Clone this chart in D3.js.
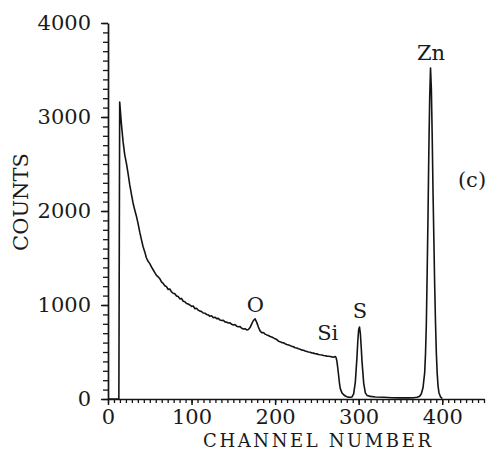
<!DOCTYPE html>
<html>
<head>
<meta charset="utf-8">
<script src="https://cdn.jsdelivr.net/npm/d3@7"></script>
<style>
  html, body { margin: 0; padding: 0; background: #fff; }
  svg { display: block; }
  text { font-family: "DejaVu Serif", serif; fill: #1a1a1a; }
</style>
</head>
<body>
<svg id="chart" width="490" height="451"></svg>
<script>
// ---- data ----
const channels = [0, 13, 14, 16, 18, 20, 22, 24, 26, 28, 30, 32, 34, 36, 38, 40, 42, 44, 46, 48, 50,
  52, 54, 56, 58, 60, 62, 64, 66, 68, 70, 72, 74, 76, 78, 80, 82, 84, 86, 88, 90,
  92, 94, 96, 98, 100, 102, 104, 106, 108, 110, 112, 114, 116, 118, 120, 122, 124, 126, 128, 130,
  132, 134, 136, 138, 140, 142, 144, 146, 148, 150, 152, 154, 156, 158, 160, 162, 164, 166, 168, 170,
  172, 174, 176, 178, 180, 182, 184, 186, 188, 190, 192, 194, 196, 198, 200, 202, 204, 206, 208, 210,
  212, 214, 216, 218, 220, 222, 224, 226, 228, 230, 232, 234, 236, 238, 240, 242, 244, 246, 248, 250,
  252, 254, 256, 258, 260, 262, 264, 266, 268, 270, 272, 273, 274, 275, 276, 277, 278, 280, 282, 284,
  286, 288, 290, 292, 294, 296, 298, 299, 300, 301, 302, 303, 304, 306, 308, 310, 314, 320, 330, 340,
  350, 360, 366, 370, 373, 375, 377, 379, 380, 381, 382, 383, 384, 385, 386, 387, 388, 389, 390, 391,
  392, 393, 394, 395, 396, 398, 400];
const counts = [0, 0, 3160, 2930, 2740, 2600, 2510, 2400, 2280, 2180, 2085, 2010, 1945, 1865, 1775, 1695, 1620, 1565, 1500, 1465, 1440,
  1405, 1375, 1345, 1315, 1300, 1280, 1245, 1230, 1205, 1195, 1165, 1170, 1140, 1125, 1120, 1095, 1090, 1065, 1070, 1040,
  1035, 1015, 1010, 1000, 985, 990, 960, 965, 945, 935, 930, 915, 912, 900, 895, 880, 885, 865, 870, 855,
  858, 840, 835, 838, 820, 818, 808, 810, 795, 788, 792, 775, 768, 770, 752, 745, 748, 735, 740, 760,
  800, 835, 852, 815, 765, 725, 705, 708, 690, 682, 676, 665, 660, 650, 640, 632, 615, 610, 600, 598,
  588, 580, 575, 568, 560, 556, 545, 542, 535, 530, 520, 518, 510, 505, 500, 498, 490, 488, 482, 480,
  474, 470, 468, 462, 460, 456, 455, 452, 448, 445, 452, 440, 400, 330, 250, 170, 110, 65, 45, 32,
  25, 20, 18, 22, 55, 180, 450, 620, 740, 766, 700, 560, 400, 170, 65, 38, 28, 22, 18, 14,
  12, 12, 14, 18, 30, 55, 120, 280, 480, 800, 1350, 1950, 2650, 3200, 3520, 3300, 2800, 2200, 1700, 1200,
  800, 480, 270, 140, 70, 22, 5];

const xTickLabels = [0, 100, 200, 300, 400];
const yTickLabels = [0, 1000, 2000, 3000, 4000];
const peakLabels = ["O", "Si", "S", "Zn"];
const peakChannels = [176.5, 263, 301.5, 386.5];
const peakCounts = [926, 628, 862, 3606];
const panelLabel = "(c)";
const xTitle = "CHANNEL NUMBER";
const yTitle = "COUNTS";

// ---- layout ----
const svg = d3.select("#chart");
const x = d3.scaleLinear().domain([0, 450]).range([108, 484]);
const y = d3.scaleLinear().domain([0, 4000]).range([399, 23]);
const ink = "#141414";

const xMinor = d3.range(0, 451, 100 / 14);
const yMinor = d3.range(0, 4001, 100);

// minor ticks
svg.append("g")
  .attr("transform", `translate(0,${y(0)})`)
  .call(d3.axisBottom(x).tickValues(xMinor).tickSize(4).tickSizeOuter(0).tickFormat(""))
  .call(g => g.select(".domain").remove())
  .call(g => g.selectAll("line").attr("stroke", ink).attr("stroke-width", 1.3));
svg.append("g")
  .attr("transform", `translate(${x(0)},0)`)
  .call(d3.axisLeft(y).tickValues(yMinor).tickSize(5).tickSizeOuter(0).tickFormat(""))
  .call(g => g.select(".domain").remove())
  .call(g => g.selectAll("line").attr("stroke", ink).attr("stroke-width", 1.3));

// major axes
const xAxis = svg.append("g")
  .attr("transform", `translate(0,${y(0)})`)
  .call(d3.axisBottom(x).tickValues(xTickLabels).tickSize(6).tickSizeOuter(0).tickPadding(4).tickFormat(d3.format("d")));
const yAxis = svg.append("g")
  .attr("transform", `translate(${x(0)},0)`)
  .call(d3.axisLeft(y).tickValues(yTickLabels).tickSize(7).tickSizeOuter(0).tickPadding(10).tickFormat(d3.format("d")));
[xAxis, yAxis].forEach(g => {
  g.select(".domain").attr("stroke", ink).attr("stroke-width", 1.7);
  g.selectAll(".tick line").attr("stroke", ink).attr("stroke-width", 1.5);
  g.selectAll(".tick text")
    .attr("fill", ink)
    .style("font-family", '"DejaVu Serif", serif')
    .style("font-size", "21px");
});

// spectrum line
const pts = channels.map((c, i) => [c, counts[i]]);
svg.append("path")
  .datum(pts)
  .attr("fill", "none")
  .attr("stroke", ink)
  .attr("stroke-width", 1.6)
  .attr("stroke-linejoin", "round")
  .attr("d", d3.line().x(d => x(d[0])).y(d => y(d[1])));

// peak labels
svg.selectAll("text.peak")
  .data(peakLabels)
  .enter().append("text")
  .attr("class", "peak")
  .attr("x", (d, i) => x(peakChannels[i]))
  .attr("y", (d, i) => y(peakCounts[i]))
  .attr("text-anchor", "middle")
  .style("font-size", "21px")
  .text(d => d);

svg.append("text")
  .attr("x", 472).attr("y", 187)
  .attr("text-anchor", "middle")
  .style("font-size", "21px")
  .text(panelLabel);

// axis titles
svg.append("text")
  .attr("x", 317).attr("y", 447)
  .attr("text-anchor", "middle")
  .attr("textLength", 228)
  .attr("lengthAdjust", "spacing")
  .style("font-size", "18px")
  .text(xTitle);

svg.append("text")
  .attr("transform", "translate(28,202) rotate(-90)")
  .attr("text-anchor", "middle")
  .style("font-size", "21px")
  .text(yTitle);
</script>
</body>
</html>
